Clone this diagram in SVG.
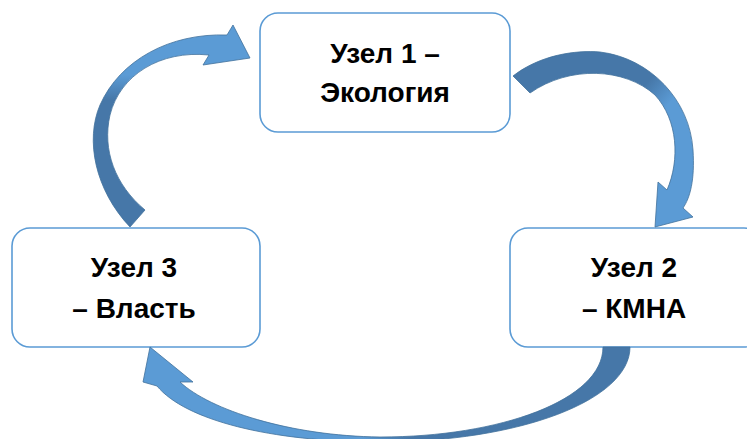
<svg xmlns="http://www.w3.org/2000/svg" width="747" height="439" viewBox="0 0 747 439">
<style>
.box{fill:#fff;stroke:#5B9BD5;stroke-width:1.6}
.lbl{font-family:"Liberation Sans",Arial,sans-serif;font-weight:bold;font-size:28px;fill:#000;text-anchor:middle}
.arr{stroke:#41719C;stroke-width:0.8;stroke-linejoin:miter}
</style>
<defs>
<linearGradient id="g1" gradientUnits="userSpaceOnUse" x1="0" y1="75" x2="0" y2="100">
<stop offset="0" stop-color="#5B9BD5"/><stop offset="1" stop-color="#4677A8"/>
</linearGradient>
<linearGradient id="g2" gradientUnits="userSpaceOnUse" x1="645" y1="85" x2="668" y2="105">
<stop offset="0" stop-color="#4677A8"/><stop offset="1" stop-color="#5B9BD5"/>
</linearGradient>
<linearGradient id="g3" gradientUnits="userSpaceOnUse" x1="360" y1="0" x2="410" y2="0">
<stop offset="0" stop-color="#5B9BD5"/><stop offset="1" stop-color="#4677A8"/>
</linearGradient>
</defs>
<g id="node1"><rect class="box" x="260" y="13" width="250" height="119" rx="18"/>
<text class="lbl" x="385" y="63">Узел 1 –</text><text class="lbl" x="385" y="102">Экология</text></g>
<g id="node2"><rect class="box" x="510" y="228" width="252" height="119" rx="18"/>
<text class="lbl" x="634" y="277">Узел 2</text><text class="lbl" x="634" y="318">– КМНА</text></g>
<g id="node3"><rect class="box" x="12" y="228" width="248" height="119" rx="18"/>
<text class="lbl" x="134" y="277">Узел 3</text><text class="lbl" x="134" y="318">– Власть</text></g>
<g id="connectors">
<path class="arr" fill="url(#g1)" d="M130,227 C95,190 85,140 100,105 C120,60 170,33 227,35 L233,25 L250,58 L203,65 L209,55 C160,50 120,75 110,115 C102,150 115,185 145,210 Z"/>
<path class="arr" fill="url(#g2)" d="M513,76 C540,55 575,50 600,52 C650,58 690,100 693,150 C695,180 690,198 683,208 L693,217 L655,227 L658,182 L667,190 C680,160 678,120 655,95 C625,68 570,65 530,93 Z"/>
<path class="arr" fill="url(#g3)" d="M630,347 C630,400 520,442 380,442 C270,442 185,420 157,386 L143,382 L150,347 L193,382 L180,382 C210,410 290,436 380,437 C500,437 603,400 603,347 Z"/>
</g>
</svg>
